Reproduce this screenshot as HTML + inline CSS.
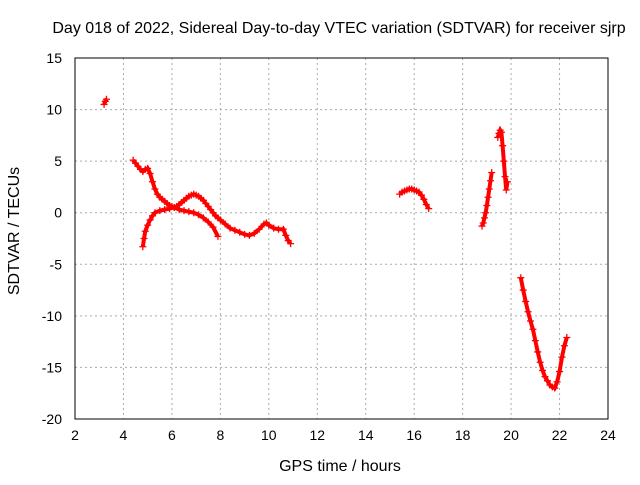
<!DOCTYPE html>
<html><head><meta charset="utf-8"><style>
body{margin:0;background:#fff;}
svg text{font-family:"Liberation Sans",sans-serif;font-size:14px;fill:#000;}
svg text.big{font-size:16px;}
</style></head><body>
<svg id="chart" width="640" height="480">
<rect width="640" height="480" fill="#fff"/>
<text class="big" x="339" y="33" text-anchor="middle">Day 018 of 2022, Sidereal Day-to-day VTEC variation (SDTVAR) for receiver sjrp</text>
<text class="big" x="340" y="471" text-anchor="middle">GPS time / hours</text>
<text class="big" transform="translate(19,231) rotate(-90)" text-anchor="middle">SDTVAR / TECUs</text>
<g id="grid"></g><g id="axes"></g><g id="marks"></g>
<rect x="75" y="58" width="533" height="361" fill="none" stroke="#000" stroke-width="1"/>
</svg>
<script>
const xTicks=[2,4,6,8,10,12,14,16,18,20,22,24];
const yTicks=[15,10,5,0,-5,-10,-15,-20];
const s1x=[3.2,3.25,3.3];
const s1y=[10.5,10.8,11.0];
const s2x=[4.4,4.5,4.6,4.7,4.8,4.9,5.0,5.1,5.2,5.3,5.4,5.5,5.6,5.7,5.8,5.9,6.0,6.1,6.2,6.3,6.4,6.5,6.6,6.7,6.8,6.9,7.0,7.1,7.2,7.3,7.4,7.5,7.6,7.7,7.8,7.9,8.0,8.2,8.4,8.6,8.8,9.0,9.2,9.4,9.6,9.8,9.9,10.0,10.2,10.4,10.6,10.7,10.8,10.9];
const s2y=[5.1,4.8,4.5,4.2,4.0,4.2,4.3,3.8,3.0,2.3,1.8,1.5,1.3,1.1,0.9,0.7,0.6,0.5,0.6,0.8,1.0,1.2,1.4,1.6,1.7,1.8,1.7,1.6,1.4,1.2,0.9,0.6,0.3,0.0,-0.3,-0.5,-0.7,-1.1,-1.5,-1.7,-1.9,-2.1,-2.2,-2.0,-1.6,-1.1,-1.0,-1.2,-1.5,-1.6,-1.6,-2.2,-2.7,-3.0];
const s3x=[4.8,4.85,4.9,5.0,5.1,5.2,5.3,5.5,5.7,5.9,6.1,6.3,6.5,6.7,6.9,7.1,7.3,7.5,7.7,7.9];
const s3y=[-3.3,-2.5,-1.8,-1.2,-0.7,-0.3,0.0,0.2,0.3,0.4,0.5,0.3,0.2,0.1,0.0,-0.2,-0.5,-0.9,-1.4,-2.3];
const s4x=[15.4,15.5,15.6,15.7,15.8,15.9,16.0,16.1,16.2,16.3,16.4,16.5,16.6];
const s4y=[1.8,2.0,2.1,2.2,2.3,2.3,2.2,2.1,2.0,1.7,1.3,0.8,0.4];
const s5x=[18.8,18.85,18.9,18.95,19.0,19.05,19.1,19.15,19.2];
const s5y=[-1.3,-1.0,-0.5,0.0,0.7,1.5,2.3,3.1,3.9];
const s6x=[19.45,19.5,19.55,19.6,19.65,19.7,19.75,19.8,19.85];
const s6y=[7.3,7.7,8.0,7.8,6.5,5.0,3.5,2.2,3.0];
const s7x=[20.4,20.5,20.6,20.7,20.8,20.9,21.0,21.1,21.2,21.3,21.4,21.5,21.6,21.7,21.8,21.9,22.0,22.1,22.2,22.3];
const s7y=[-6.3,-7.5,-8.6,-9.6,-10.5,-11.3,-12.4,-13.5,-14.5,-15.3,-15.9,-16.3,-16.7,-16.9,-17.0,-16.4,-15.4,-14.0,-12.9,-12.1];
const X=v=>75+(v-2)*(533/22);
const Y=v=>58+(15-v)*(361/35);
const ns="http://www.w3.org/2000/svg";
const grid=document.getElementById('grid'),axes=document.getElementById('axes'),marks=document.getElementById('marks');
function mk(t,a,p){const e=document.createElementNS(ns,t);for(const k in a)e.setAttribute(k,a[k]);p.appendChild(e);return e;}
xTicks.forEach(v=>{
 if(v>2&&v<24){const g=mk('line',{x1:X(v),x2:X(v),y1:58,y2:419,stroke:'#aaa','stroke-dasharray':'2,3'},grid);
 
 }
 const t=mk('text',{x:X(v),y:440,'text-anchor':'middle'},axes);t.textContent=v;
 
 
});
yTicks.forEach(v=>{
 if(v<15&&v>-20){const g=mk('line',{x1:75,x2:608,y1:Y(v),y2:Y(v),stroke:'#aaa','stroke-dasharray':'2,3'},grid);
 
 }
 const t=mk('text',{x:62,y:Y(v)+5,'text-anchor':'end'},axes);t.textContent=v;
 
 
});
[[s1x,s1y],[s2x,s2y],[s3x,s3y],[s4x,s4y],[s5x,s5y],[s6x,s6y],[s7x,s7y]].forEach(([xs,ys],i)=>{
 const pts=xs.map((x,j)=>X(x)+','+Y(ys[j])).join(' ');
 const pl=mk('polyline',{points:pts,fill:'none',stroke:'#f00','stroke-width':4},marks);
 
 
 xs.forEach((x,j)=>{
  const px=X(x),py=Y(ys[j]);
  const p=mk('path',{d:`M${px-3.5},${py}h7M${px},${py-3.5}v7`,stroke:'#f00','stroke-width':1.3},marks);
  
  
 });
});
</script>
</body></html>
